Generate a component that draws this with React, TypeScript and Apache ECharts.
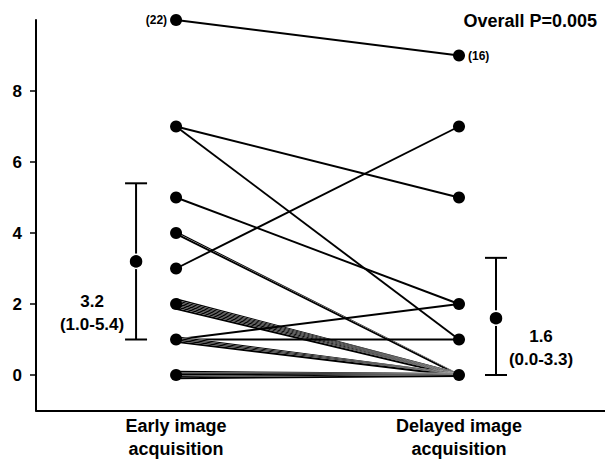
import React, { useEffect, useRef } from "react";
import * as echarts from "echarts";

// Paired observations: early value, delayed value, number of patients with that pair
const earlyVals = [10, 7, 7, 5, 4, 3, 2, 1, 1, 1, 0];
const delayedVals = [9, 5, 1, 2, 0, 7, 0, 2, 1, 0, 0];
const pairCounts = [1, 1, 1, 1, 2, 1, 7, 1, 1, 4, 5];

const groupNames = ["Early image\nacquisition", "Delayed image\nacquisition"];
const groupX = [1, 2];

// summary: mean, low, high
const summaryMean = [3.2, 1.6];
const summaryLow = [1.0, 0.0];
const summaryHigh = [5.4, 3.3];
const summaryLabels = ["3.2\n(1.0-5.4)", "1.6\n(0.0-3.3)"];

const yTicks = [0, 2, 4, 6, 8];
const topLabels = ["(22)", "(16)"];
const pValueText = "Overall P=0.005";

const FONT = "'Liberation Sans', Arial, sans-serif";

export default function App() {
  const ref = useRef<HTMLDivElement>(null);

  useEffect(() => {
    if (!ref.current) return;
    const chart = echarts.init(ref.current, null, { renderer: "svg" });

    const pairData = earlyVals.map((e, i) => [groupX[0], e, groupX[1], delayedVals[i], pairCounts[i]]);

    const uniq = (arr: number[]) => Array.from(new Set(arr));
    const maxEarly = Math.max(...earlyVals);
    const maxDelayed = Math.max(...delayedVals);
    const lbl = { color: "#000", fontFamily: FONT, fontWeight: "bold", fontSize: 12 };
    const earlyDots = uniq(earlyVals).map((v) => ({
      value: [groupX[0], v],
      label: v === maxEarly ? { show: true, formatter: topLabels[0], position: "left", distance: 3, ...lbl } : { show: false },
    }));
    const delayedDots = uniq(delayedVals).map((v) => ({
      value: [groupX[1], v],
      label: v === maxDelayed ? { show: true, formatter: topLabels[1], position: "right", distance: 3, ...lbl } : { show: false },
    }));

    const summaryData = summaryMean.map((m, i) => [groupX[i], m, summaryLow[i], summaryHigh[i], i]);
    const barOffset = [-40, 37];
    const labelOffset = [-84, 82];

    chart.setOption({
      animation: false,
      grid: { left: 36, right: 0, top: 20, bottom: 58.5 },
      xAxis: {
        type: "value",
        min: 0.505,
        max: 2.516,
        splitLine: { show: false },
        axisLine: { onZero: false, lineStyle: { color: "#000", width: 2 } },
        axisTick: { show: false },
        axisLabel: {
          customValues: groupX,
          formatter: (v: number) => groupNames[groupX.indexOf(v)] ?? "",
          color: "#000",
          fontFamily: FONT,
          fontWeight: "bold",
          fontSize: 18,
          lineHeight: 23,
          margin: 4,
        },
      },
      yAxis: {
        type: "value",
        min: -1,
        max: 10,
        splitLine: { show: false },
        axisLine: { onZero: false, lineStyle: { color: "#000", width: 2 } },
        axisTick: { customValues: yTicks, length: 6, lineStyle: { color: "#000", width: 1.5 } },
        axisLabel: {
          customValues: yTicks,
          color: "#000",
          fontFamily: FONT,
          fontWeight: "bold",
          fontSize: 17,
          margin: 14,
        },
      },
      graphic: [
        {
          type: "text",
          right: 8,
          top: 12,
          style: { text: pValueText, font: `bold 18px ${FONT}`, fill: "#000" },
        },
      ],
      series: [
        {
          type: "custom",
          data: pairData,
          encode: { x: [0, 2], y: [1, 3] },
          z: 2,
          renderItem: (params: any, api: any) => {
            const p1 = api.coord([api.value(0), api.value(1)]);
            const p2 = api.coord([api.value(2), api.value(3)]);
            const n = api.value(4);
            const children: any[] = [];
            for (let k = 0; k < n; k++) {
              const off = (k - (n - 1) / 2) * 1.6;
              const shape = { x1: p1[0], y1: p1[1] + off, x2: p2[0], y2: p2[1] + off * 0.3 };
              if (n > 1) {
                children.push({ type: "line", shape, style: { stroke: "#fff", lineWidth: 2.4 } });
              }
              children.push({ type: "line", shape, style: { stroke: "#000", lineWidth: 1.9 } });
            }
            return { type: "group", children };
          },
        },
        {
          type: "scatter",
          data: earlyDots,
          symbolSize: 12,
          itemStyle: { color: "#000", opacity: 1 },
          z: 5,
        },
        {
          type: "scatter",
          data: delayedDots,
          symbolSize: 12,
          itemStyle: { color: "#000", opacity: 1 },
          z: 5,
        },
        {
          type: "custom",
          data: summaryData,
          encode: { x: 0, y: [1, 2, 3] },
          z: 6,
          renderItem: (params: any, api: any) => {
            const idx = api.value(4);
            const pm = api.coord([api.value(0), api.value(1)]);
            const pl = api.coord([api.value(0), api.value(2)]);
            const ph = api.coord([api.value(0), api.value(3)]);
            const x = pm[0] + barOffset[idx];
            const cap = 11;
            const st = { stroke: "#000", lineWidth: 2 };
            return {
              type: "group",
              children: [
                { type: "line", shape: { x1: x, y1: pl[1], x2: x, y2: ph[1] }, style: st },
                { type: "line", shape: { x1: x - cap, y1: pl[1], x2: x + cap, y2: pl[1] }, style: st },
                { type: "line", shape: { x1: x - cap, y1: ph[1], x2: x + cap, y2: ph[1] }, style: st },
                { type: "circle", shape: { cx: x, cy: pm[1], r: 7 }, style: { fill: "#000", stroke: "#fff", lineWidth: 1.5 } },
                {
                  type: "text",
                  x: pm[0] + labelOffset[idx],
                  y: pl[1] - 27,
                  style: {
                    text: summaryLabels[idx],
                    font: `bold 17px ${FONT}`,
                    lineHeight: 23,
                    fill: "#000",
                    align: "center",
                    verticalAlign: "middle",
                  },
                },
              ],
            };
          },
        },
      ],
    });

    return () => chart.dispose();
  }, []);

  return (
    <div
      ref={ref}
      style={{ position: "fixed", left: 0, top: 0, width: 605, height: 469, background: "#fff" }}
    />
  );
}
